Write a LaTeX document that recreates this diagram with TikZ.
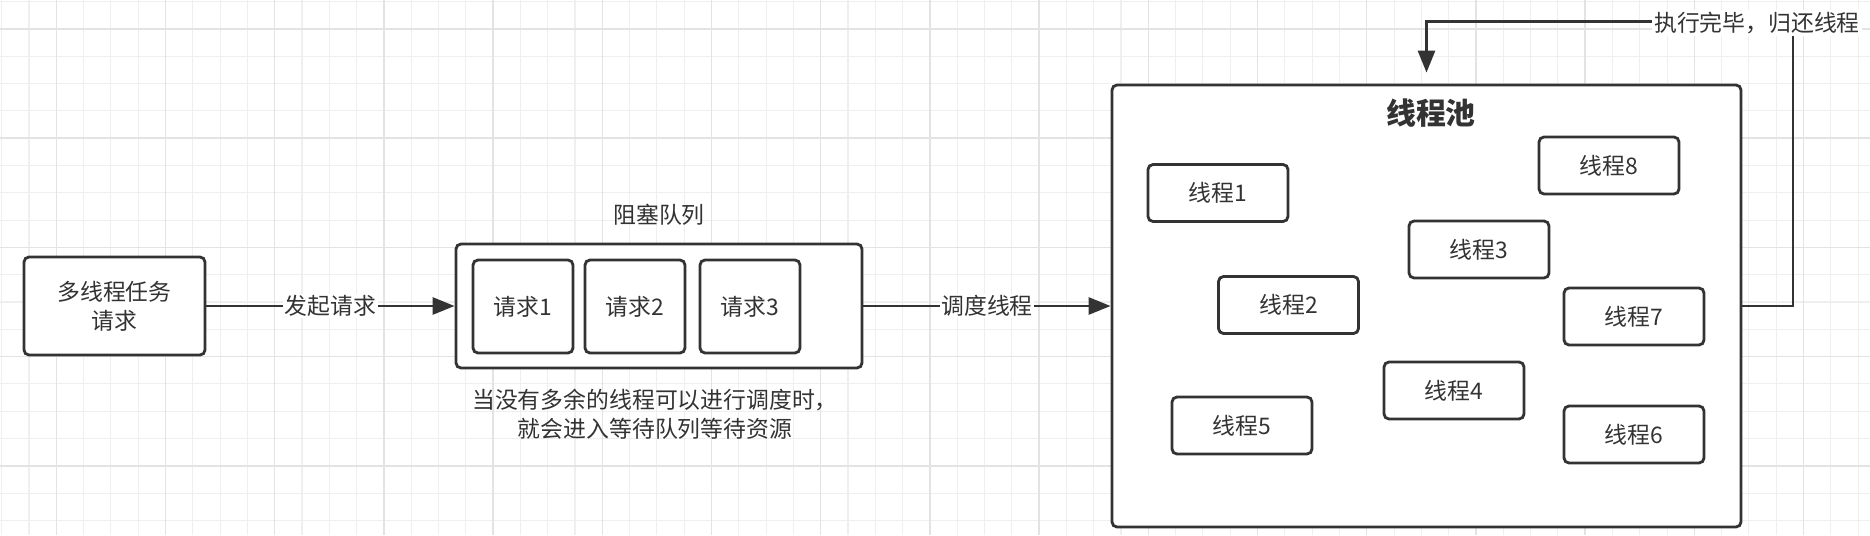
\documentclass[tikz,border=0pt]{standalone}
\usepackage{fontspec}
\setmainfont{Noto Sans CJK SC}
\usetikzlibrary{arrows.meta}

\definecolor{ink}{HTML}{333333}
\definecolor{gridminor}{HTML}{EFEFEF}
\definecolor{gridmajor}{HTML}{E3E3E3}

\tikzset{
  box/.style={draw=ink, line width=1.6pt, fill=white, rounded corners=0.1cm, text=ink,
    font=\fontsize{13pt}{16.5pt}\selectfont, align=center, inner sep=0pt},
  thread/.style={box, minimum width=2.8cm, minimum height=1.14cm},
  conn/.style={draw=ink, line width=1.6pt, -{Triangle[length=0.44cm,width=0.34cm]}},
  tag/.style={fill=white, text=ink, font=\fontsize{13pt}{16.5pt}\selectfont, inner sep=1pt},
}

\begin{document}
\begin{tikzpicture}
\fill [color=white] (0, 0) rectangle (37.4, 10.7);
\useasboundingbox (0, 0) rectangle (37.4, 10.7);

% grid
\foreach \i in {0,...,68}
  \draw [gridminor, line width=0.6pt] ({0.034+0.546*\i}, 0) -- ++(0, 10.7);
\foreach \i in {0,...,19}
  \draw [gridminor, line width=0.6pt] (0, {10.666-0.546*\i}) -- ++(37.4, 0);
\foreach \i in {2,6,...,66}
  \draw [gridmajor, line width=0.8pt] ({0.034+0.546*\i}, 0) -- ++(0, 10.7);
\foreach \i in {1,5,...,17}
  \draw [gridmajor, line width=0.8pt] (0, {10.666-0.546*\i}) -- ++(37.4, 0);

% request side
\node (task) at (2.29, 4.58) [box, minimum width=3.62cm, minimum height=1.96cm] {多线程任务\\请求};
\node (queue) at (13.18, 4.58) [box, minimum width=8.12cm, minimum height=2.48cm] {};
\node (queuetitle) at (13.18, 6.4) [tag, fill=none] {阻塞队列};
\node (req1) at (10.46, 4.57) [box, minimum width=2cm, minimum height=1.86cm] {请求1};
\node (req2) at (12.70, 4.57) [box, minimum width=2cm, minimum height=1.86cm] {请求2};
\node (req3) at (15.00, 4.57) [box, minimum width=2cm, minimum height=1.86cm] {请求3};
\node (waitnote) at (13.1, 2.42) [tag, fill=none, align=center] {当没有多余的线程可以进行调度时，\\就会进入等待队列等待资源};

% thread pool
\node (pool) at (28.53, 4.58) [box, minimum width=12.58cm, minimum height=8.84cm] {};
\node (pooltitle) at (28.62, 8.44) [text=ink, font=\fontsize{17pt}{20pt}\selectfont\bfseries] {线程池};
\foreach \n/\x/\y in {1/24.36/6.84, 2/25.77/4.60, 3/29.58/5.71, 4/29.08/2.89,
                      5/24.84/2.19, 6/32.68/2.01, 7/32.68/4.37, 8/32.18/7.39}
  \node (t\n) at (\x, \y) [thread] {线程\n};

% connectors
\draw [conn] (task) -- node [tag] {发起请求} (queue);
\draw [conn] (queue) -- node [tag] {调度线程} (pool);
\coordinate (turn) at (35.86, 10.27);
\draw [conn, shorten >=0.22cm] (pool.east) -| (turn) -| (pool.north);
\node (backtag) at (35.14, 10.24) [tag] {执行完毕，归还线程};
\end{tikzpicture}
\end{document}
